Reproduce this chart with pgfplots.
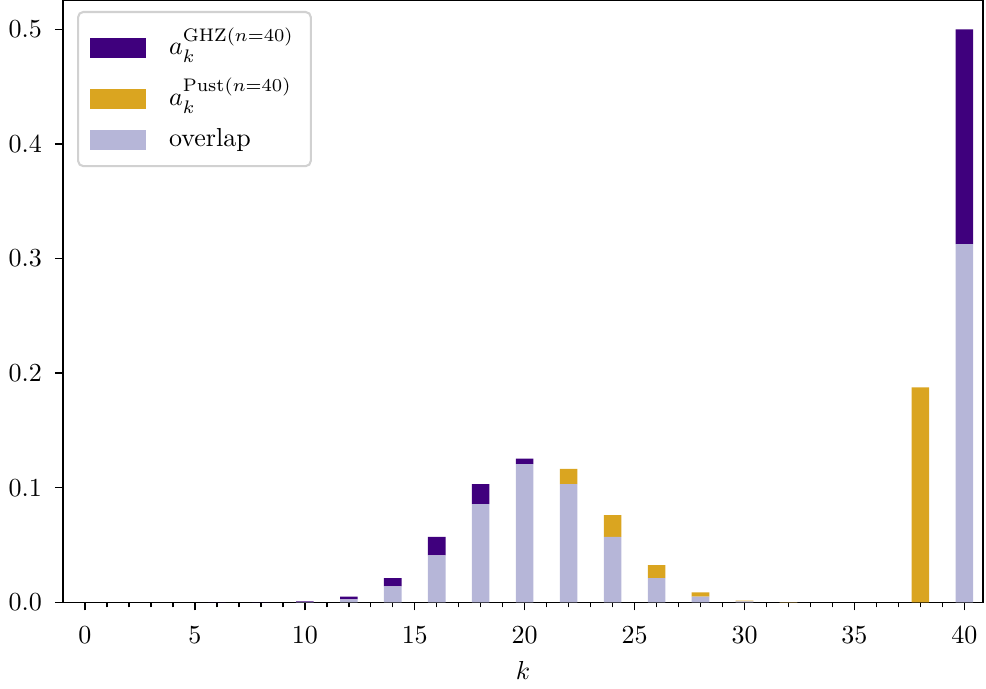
\documentclass[border=0pt]{standalone}
\usepackage{pgfplots}
\pgfplotsset{compat=1.18}
\definecolor{ghz}{RGB}{63,0,125}
\definecolor{pust}{RGB}{218,165,32}
\definecolor{ovl}{RGB}{182,182,216}
\begin{document}
\begin{tikzpicture}
\begin{axis}[
  scale only axis, width=354pt, height=231.5pt,
  xmin=-1, xmax=40.85, ymin=0, ymax=0.525,
  axis line style={line width=0.55pt},
  every tick/.style={black, line width=0.55pt},
  tick align=outside, xtick pos=bottom, ytick pos=left,
  xtick={0,5,...,40}, minor xtick={0,1,...,40},
  ytick={0,0.1,0.2,0.3,0.4,0.5},
  major tick length=3.1pt, minor tick length=1.9pt,
  yticklabel style={xshift=-1.5pt, /pgf/number format/.cd, fixed, fixed zerofill, precision=1},
  xticklabel style={yshift=-2.8pt},
  xlabel={$k$},
  xlabel style={yshift=0pt},
  ybar stacked, bar width=0.8,
  legend cell align=left,
  legend style={at={(0.0153,0.983)}, anchor=north west, draw=black!18, line width=0.8pt, rounded corners=2pt, inner xsep=4.5pt, inner ysep=4pt, row sep=3.5pt},
  legend image code/.code={\fill[#1, sharp corners] (0pt,-3.85pt) rectangle (21.5pt,3.85pt); \path[draw=none] (28.5pt,0pt);},
]
\addlegendimage{legend image code/.code={\path[draw=none, fill=none, use as bounding box] (0pt,-3.85pt) rectangle (28.5pt,3.85pt); \fill[ghz, draw=none, sharp corners] (0pt,-5.85pt) rectangle (21.5pt,1.85pt);}}
\addlegendentry{$a_k^{\mathrm{GHZ}(n=40)}$}
\addlegendimage{legend image code/.code={\path[draw=none, fill=none, use as bounding box] (0pt,-3.85pt) rectangle (28.5pt,3.85pt); \fill[pust, draw=none, sharp corners] (0pt,-5.85pt) rectangle (21.5pt,1.85pt);}}
\addlegendentry{$a_k^{\mathrm{Pust}(n=40)}$}
\addlegendimage{fill=ovl, draw=none}
\addlegendentry{overlap}
% overlap = common part of both distributions
\addplot[fill=ovl, draw=none, forget plot] coordinates {
(0,0) (2,0) (4,0) (6,0) (8,0) (10,0.0003) (12,0.0026) (14,0.014) (16,0.041) (18,0.0857) (20,0.1207)
(22,0.1031) (24,0.0572) (26,0.0211) (28,0.0051) (30,0.00077) (32,0.00007) (34,0) (36,0) (38,0) (40,0.3125)};
% GHZ above overlap
\addplot[fill=ghz, draw=none, forget plot] coordinates {
(0,0) (2,0) (4,0) (6,0.0000035) (8,0.00007) (10,0.00047) (12,0.0025) (14,0.0071) (16,0.0162) (18,0.0174) (20,0.0047)
(22,0) (24,0) (26,0) (28,0) (30,0) (32,0) (34,0) (36,0) (38,0) (40,0.1875)};
% Pust above overlap
\addplot[fill=pust, draw=none, forget plot] coordinates {
(0,0) (2,0) (4,0) (6,0) (8,0) (10,0) (12,0) (14,0) (16,0) (18,0) (20,0)
(22,0.0133) (24,0.0189) (26,0.0113) (28,0.0037) (30,0.0008) (32,0.00003) (34,0) (36,0) (38,0.1875) (40,0)};
\end{axis}
\end{tikzpicture}
\end{document}
